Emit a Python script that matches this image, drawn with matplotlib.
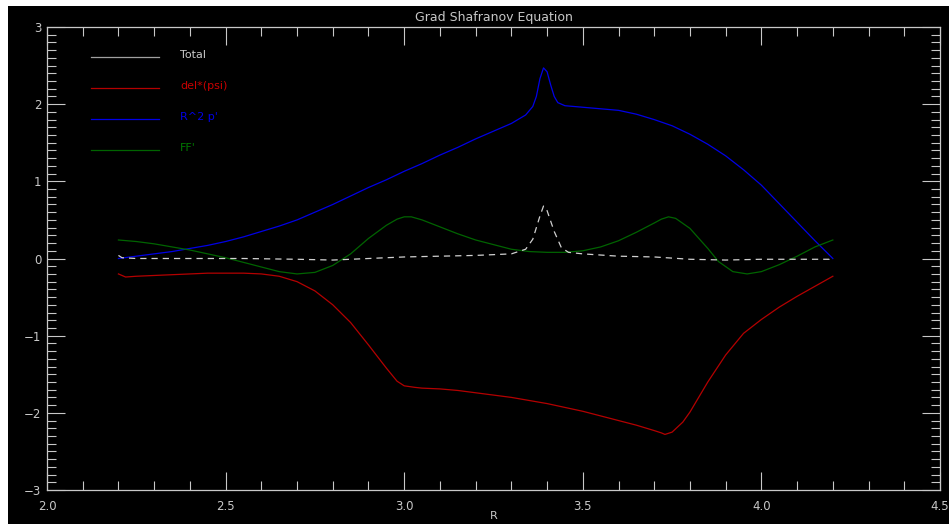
import matplotlib
matplotlib.use("Agg")
import matplotlib.pyplot as plt
from matplotlib.patches import Rectangle
from matplotlib.ticker import MultipleLocator, FormatStrFormatter, FuncFormatter

# Radial coordinate and the terms of the Grad-Shafranov balance
r_blue = [2.20, 2.25, 2.30, 2.35, 2.40, 2.45, 2.50, 2.55, 2.60, 2.65, 2.70, 2.75,
          2.80, 2.85, 2.90, 2.95, 3.00, 3.05, 3.10, 3.15, 3.20, 3.25, 3.30, 3.34,
          3.36, 3.37, 3.38, 3.39, 3.40, 3.41, 3.42, 3.43, 3.45, 3.50, 3.55, 3.60,
          3.65, 3.70, 3.75, 3.80, 3.85, 3.90, 3.95, 4.00, 4.05, 4.10, 4.15, 4.20]
r2_pprime = [0.00, 0.03, 0.06, 0.09, 0.13, 0.17, 0.22, 0.28, 0.35, 0.42, 0.50, 0.60,
             0.70, 0.81, 0.92, 1.02, 1.13, 1.23, 1.34, 1.44, 1.55, 1.65, 1.75, 1.86,
             1.97, 2.10, 2.33, 2.47, 2.42, 2.25, 2.10, 2.02, 1.98, 1.96, 1.94, 1.92,
             1.87, 1.80, 1.72, 1.61, 1.48, 1.33, 1.15, 0.95, 0.71, 0.47, 0.23, 0.00]

r_green = [2.20, 2.25, 2.30, 2.35, 2.40, 2.45, 2.50, 2.55, 2.60, 2.65, 2.70, 2.75,
           2.80, 2.85, 2.90, 2.95, 2.98, 3.00, 3.02, 3.05, 3.10, 3.15, 3.20, 3.25,
           3.30, 3.35, 3.40, 3.45, 3.50, 3.55, 3.60, 3.65, 3.70, 3.72, 3.74, 3.76,
           3.80, 3.85, 3.88, 3.92, 3.96, 4.00, 4.05, 4.10, 4.15, 4.20]
ff_prime = [0.24, 0.22, 0.19, 0.15, 0.11, 0.06, 0.01, -0.05, -0.11, -0.17, -0.20, -0.18,
            -0.09, 0.06, 0.26, 0.43, 0.51, 0.54, 0.54, 0.50, 0.41, 0.32, 0.24, 0.18,
            0.12, 0.09, 0.08, 0.08, 0.10, 0.15, 0.23, 0.34, 0.46, 0.51, 0.54, 0.52,
            0.39, 0.13, -0.04, -0.17, -0.20, -0.17, -0.08, 0.03, 0.15, 0.24]

r_red = [2.20, 2.22, 2.25, 2.30, 2.35, 2.40, 2.45, 2.50, 2.55, 2.60, 2.65, 2.70,
         2.75, 2.80, 2.85, 2.90, 2.95, 2.98, 3.00, 3.03, 3.05, 3.10, 3.15, 3.20,
         3.25, 3.30, 3.35, 3.40, 3.45, 3.50, 3.55, 3.60, 3.65, 3.70, 3.72, 3.73,
         3.75, 3.78, 3.80, 3.85, 3.90, 3.95, 4.00, 4.05, 4.10, 4.15, 4.20]
del_star_psi = [-0.20, -0.24, -0.23, -0.22, -0.21, -0.20, -0.19, -0.19, -0.19, -0.20, -0.23, -0.30,
                -0.42, -0.60, -0.83, -1.12, -1.42, -1.59, -1.65, -1.67, -1.68, -1.69, -1.71, -1.74,
                -1.77, -1.80, -1.84, -1.88, -1.93, -1.98, -2.04, -2.10, -2.16, -2.23, -2.26, -2.28,
                -2.25, -2.12, -1.99, -1.60, -1.25, -0.97, -0.79, -0.63, -0.49, -0.36, -0.23]

r_total = [2.20, 2.21, 2.25, 2.40, 2.55, 2.70, 2.80, 2.90, 3.00, 3.10, 3.20, 3.30,
           3.34, 3.36, 3.38, 3.39, 3.40, 3.42, 3.44, 3.46, 3.50, 3.60, 3.70, 3.80,
           3.90, 4.00, 4.10, 4.19, 4.20]
total = [0.04, 0.01, 0.00, 0.00, 0.00, -0.01, -0.02, 0.00, 0.02, 0.03, 0.04, 0.06,
         0.12, 0.25, 0.55, 0.68, 0.62, 0.35, 0.14, 0.08, 0.06, 0.03, 0.02, -0.01,
         -0.02, -0.01, -0.01, -0.01, 0.02]

legend_labels = ["Total", "del*(psi)", "R^2 p'", "FF'"]
legend_colors = ["#c8c8c8", "#c80000", "#0000e6", "#007800"]
legend_line_colors = ["#a0a0a0", "#b40000", "#0000e6", "#006400"]

AX_COLOR = "#c8c8c8"

fig = plt.figure(figsize=(9.49, 5.24), dpi=100)
fig.patch.set_facecolor("white")
fig.patches.append(Rectangle((8 / 949, 0), 1 - 8 / 949, 1 - 6 / 524,
                             transform=fig.transFigure, facecolor="black",
                             edgecolor="none", zorder=-10))

ax = fig.add_axes([47 / 949, 1 - 490 / 524, (940 - 47) / 949, (490 - 27) / 524])
ax.set_facecolor("black")

ax.plot(r_red, del_star_psi, color="#b40000", lw=0.9)
ax.plot(r_blue, r2_pprime, color="#0000e6", lw=0.9)
ax.plot(r_green, ff_prime, color="#006400", lw=0.9)
ax.plot(r_total, total, color="#d0d0d0", lw=0.9, linestyle=(0, (5, 4)))

ax.set_xlim(2.0, 4.5)
ax.set_ylim(-3, 3)
ax.xaxis.set_major_locator(MultipleLocator(0.5))
ax.xaxis.set_minor_locator(MultipleLocator(0.1))
ax.yaxis.set_major_locator(MultipleLocator(1))
ax.yaxis.set_minor_locator(MultipleLocator(0.1))
ax.xaxis.set_major_formatter(FormatStrFormatter("%.1f"))
ax.yaxis.set_major_formatter(FuncFormatter(
    lambda v, p: f"{int(round(v))}".replace("-", "\u2212")))

for s in ax.spines.values():
    s.set_color(AX_COLOR)
    s.set_linewidth(0.9)

ax.tick_params(which="both", direction="in", top=True, right=True,
               colors=AX_COLOR, labelcolor=AX_COLOR, labelsize=8.5, width=0.8)
ax.tick_params(which="major", length=13)
ax.tick_params(which="minor", length=6.5)
ax.tick_params(axis="x", which="major", pad=7)
ax.tick_params(axis="y", which="major", pad=4)

ax.set_title("Grad Shafranov Equation", color=AX_COLOR, fontsize=9, pad=4)
ax.set_xlabel("R", color=AX_COLOR, fontsize=8, labelpad=-1)

# Legend drawn as short line samples with coloured labels
legend_y = [57, 88, 119, 150]
for lab, tc, lc, py in zip(legend_labels, legend_colors, legend_line_colors, legend_y):
    yy = (490 - py) / 463
    ax.plot([(91 - 47) / 893, (159 - 47) / 893], [yy, yy], color=lc, lw=0.9,
            transform=ax.transAxes, clip_on=False)
    ax.text((180 - 47) / 893, yy + 0.004, lab, color=tc, fontsize=8,
            transform=ax.transAxes, va="center", ha="left")

fig.savefig("out.png", dpi=100, facecolor=fig.get_facecolor())
